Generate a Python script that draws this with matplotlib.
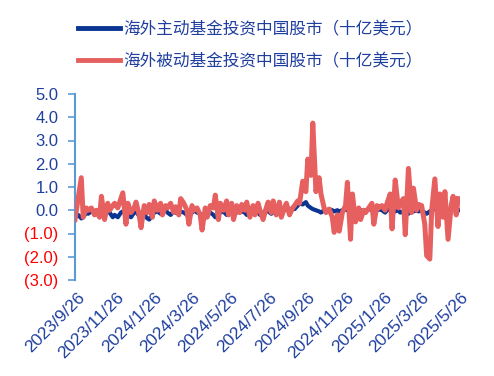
import numpy as np
import pandas as pd
import matplotlib
matplotlib.use('Agg')
import matplotlib.pyplot as plt
from matplotlib.ticker import FixedLocator, FuncFormatter

plt.rcParams['font.family'] = ['Liberation Sans', 'Noto Sans CJK SC', 'DejaVu Sans']

# values (billion USD), one point about every 3 trading days
passive_flow = [
    -0.4, 0.5, 1.4, -0.3, 0.1, 0.0, 0.1, -0.2, 0.0, -0.3,
    0.6, -0.4, 0.3, 0.0, 0.2, 0.3, 0.1, 0.5, 0.75, -0.6,
    0.3, -0.1, 0.1, 0.35, -0.2, -0.75, 0.2, -0.1, 0.25, -0.3,
    0.4, 0.0, 0.3, -0.2, 0.2, 0.1, 0.3, -0.1, 0.15, -0.2,
    0.5, 0.3, 0.0, -0.6, 0.2, 0.0, 0.1, -0.2, -0.85, 0.1,
    -0.3, 0.2, 0.1, 0.65, -0.4, 0.3, 0.0, 0.4, -0.2, 0.3,
    -0.4, 0.2, -0.1, 0.25, 0.0, 0.35, -0.3, 0.2, -0.2, 0.3,
    0.0, -0.4, 0.1, 0.35, -0.1, 0.4, -0.2, 0.35, -0.3, 0.1,
    0.3, -0.2, 0.1, 0.2, 0.4, 0.3, 1.25, 0.8, 2.2, 1.5,
    3.75, 0.8, 1.4, 0.7, 0.1, -0.1, 0.05, -0.3, -0.95, -0.2,
    -0.9, -0.1, 0.2, 1.2, -1.25, 0.7, -0.5, 0.1, -0.4, 0.0,
    -0.1, 0.1, 0.3, -0.6, 0.2, 0.1, 0.2, 0.0, 0.3, 0.7,
    -0.8, 1.3, 0.1, 0.3, 0.5, -1.05, 1.8, -0.1, 0.95, 0.0,
    0.25, 0.2, -0.6, -1.95, -2.1, 0.0, 1.35, -0.7, 0.7, -0.3,
    0.8, -1.25, 0.2, 0.6, -0.2, 0.5,
]

active_flow = [
    -0.3, -0.2, -0.35, -0.3, -0.1, -0.15, -0.05, -0.1, -0.15, -0.1,
    -0.1, -0.2, -0.05, -0.1, -0.3, -0.2, -0.3, -0.1, -0.05, -0.1,
    -0.2, -0.3, -0.1, -0.05, -0.25, -0.1, -0.2, -0.35, -0.4, -0.2,
    -0.1, -0.05, -0.15, -0.1, 0.0, -0.1, -0.2, -0.05, -0.1, -0.15,
    -0.05, -0.1, -0.2, -0.25, -0.1, 0.0, -0.1, -0.15, -0.25, -0.1,
    -0.05, -0.1, -0.2, -0.3, -0.15, -0.1, -0.05, -0.2, -0.1, -0.05,
    -0.15, -0.1, 0.0, -0.05, -0.1, -0.2, -0.1, 0.0, -0.05, -0.1,
    -0.2, -0.1, 0.0, -0.05, -0.15, -0.1, 0.0, -0.05, -0.1, 0.0,
    0.05, 0.0, 0.1, 0.05, 0.2, 0.3, 0.25, 0.35, 0.2, 0.1,
    0.05, 0.0, -0.05, -0.1, 0.0, -0.05, 0.05, 0.0, -0.05, 0.0,
    -0.05, 0.0, 0.05, 0.0, -0.05, -0.1, 0.0, 0.05, 0.0, -0.05,
    0.0, 0.05, 0.0, -0.05, 0.0, 0.05, 0.0, -0.1, 0.0, 0.05,
    0.0, -0.05, 0.0, -0.1, -0.05, 0.0, -0.15, 0.0, -0.05, 0.0,
    -0.05, 0.0, -0.1, -0.15, -0.05, 0.0, 0.05, 0.0, -0.05, 0.0,
    0.0, -0.05, 0.0, 0.05, 0.0, 0.0,
]

tick_dates = ['2023-09-26', '2023-11-26', '2024-01-26', '2024-03-26', '2024-05-26',
              '2024-07-26', '2024-09-26', '2024-11-26', '2025-01-26', '2025-03-26',
              '2025-05-26']
tick_labels = ['2023/9/26', '2023/11/26', '2024/1/26', '2024/3/26', '2024/5/26',
               '2024/7/26', '2024/9/26', '2024/11/26', '2025/1/26', '2025/3/26',
               '2025/5/26']
y_ticks = [5, 4, 3, 2, 1, 0, -1, -2, -3]

label_active = '海外主动基金投资中国股市（十亿美元）'
label_passive = '海外被动基金投资中国股市（十亿美元）'

dates = pd.bdate_range('2023-09-22', periods=len(passive_flow), freq='3B')

navy = '#0a3592'
red = '#e66060'
text_blue = '#1f3f9f'
spine_blue = '#5b9bd5'

fig = plt.figure(figsize=(4.94, 3.76), dpi=100)
ax = fig.add_axes([75 / 494, 1 - 280 / 376, (460 - 75) / 494, (280 - 94) / 376])

ax.plot(dates, active_flow, color=navy, linewidth=3.0, label=label_active, zorder=2)
ax.plot(dates, passive_flow, color=red, linewidth=3.6, label=label_passive, zorder=3)

ax.set_ylim(-3, 5)
ax.set_xlim(dates[0], dates[-1])
ax.yaxis.set_major_locator(FixedLocator(y_ticks))

def fmt(v, pos):
    return f'({abs(v):.1f})' if v < 0 else f'{v:.1f}'

ax.yaxis.set_major_formatter(FuncFormatter(fmt))
ax.tick_params(axis='y', direction='out', length=5, width=1.2, color=spine_blue,
               labelsize=12, pad=7)
fig.canvas.draw()
for lab in ax.get_yticklabels():
    lab.set_color('#ff0000' if lab.get_text().startswith('(') else text_blue)

ax.set_xticks(pd.to_datetime(tick_dates))
ax.set_xticklabels(tick_labels, rotation=45, ha='right', rotation_mode='anchor',
                   color=text_blue, fontsize=12.5)
ax.tick_params(axis='x', length=0, pad=7)

for side in ['top', 'right', 'bottom']:
    ax.spines[side].set_visible(False)
ax.spines['left'].set_color(spine_blue)
ax.spines['left'].set_linewidth(1.5)

leg = fig.legend(loc='upper left', bbox_to_anchor=(78 / 494, 1 - 21 / 376),
                 frameon=False, borderpad=0, borderaxespad=0, handlelength=2.5,
                 handletextpad=0.2, labelspacing=0.9,
                 prop={'family': ['Noto Sans CJK SC', 'DejaVu Sans'], 'size': 12})
for t in leg.get_texts():
    t.set_color(text_blue)
for h in leg.get_lines():
    h.set_linewidth(3.5)

fig.savefig('out.png', dpi=100)
